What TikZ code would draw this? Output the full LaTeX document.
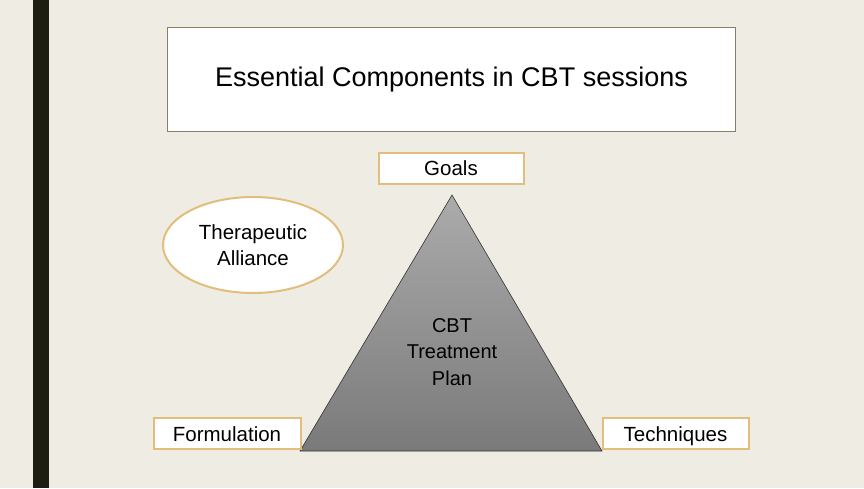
\documentclass[tikz,border=0pt]{standalone}
\usepackage{fontspec}
\setmainfont{Liberation Sans}
\usetikzlibrary{shapes.geometric}
\definecolor{bg}{HTML}{EFECE4}
\definecolor{bar}{HTML}{1D1D12}
\definecolor{titleborder}{HTML}{8A7F66}
\definecolor{tan}{HTML}{E2BE7C}
\definecolor{trtop}{HTML}{ABABAB}
\definecolor{trbot}{HTML}{7A7A7A}
\tikzset{
  tanbox/.style={draw=tan, line width=2pt, fill=white, minimum height=31pt, inner sep=0pt, text height=15pt, text depth=0pt, font=\fontsize{20.5}{24}\selectfont},
}
\begin{document}
\begin{tikzpicture}[x=1pt,y=-1pt]
\fill[bg] (0,0) rectangle (864,488);
\useasboundingbox (0,0) rectangle (864,488);
\fill[bar] (33,0) rectangle (49,488);
% title
\node[draw=titleborder, line width=1.7pt, fill=white, minimum width=568pt, minimum height=104pt, inner sep=0pt, font=\fontsize{27}{30}\selectfont] (title) at (451.5,79.5) {Essential Components in CBT sessions};
% triangle
\coordinate (apex) at (452,195);
\coordinate (bl) at (300,451);
\coordinate (br) at (602,451);
\shade[top color=trtop, bottom color=trbot, draw=black!80, line width=0.6pt] (apex) -- (br) -- (bl) -- cycle;
\node[align=center, font=\fontsize{20}{26.5}\selectfont] (plan) at (452,352) {CBT\\Treatment\\Plan};
% boxes
\node[tanbox, minimum width=145pt] (goals) at (451,168) {Goals};
\node[tanbox, minimum width=147pt] (form) at (227,433.5) {Formulation};
\node[tanbox, minimum width=146pt] (tech) at (675.5,433.5) {Techniques};
% ellipse
\node[draw=tan, line width=2pt, fill=white, ellipse, minimum width=180pt, minimum height=96pt, inner sep=0pt, align=center, font=\fontsize{20.5}{26}\selectfont] (alliance) at (253,245) {Therapeutic\\Alliance};
\end{tikzpicture}
\end{document}
